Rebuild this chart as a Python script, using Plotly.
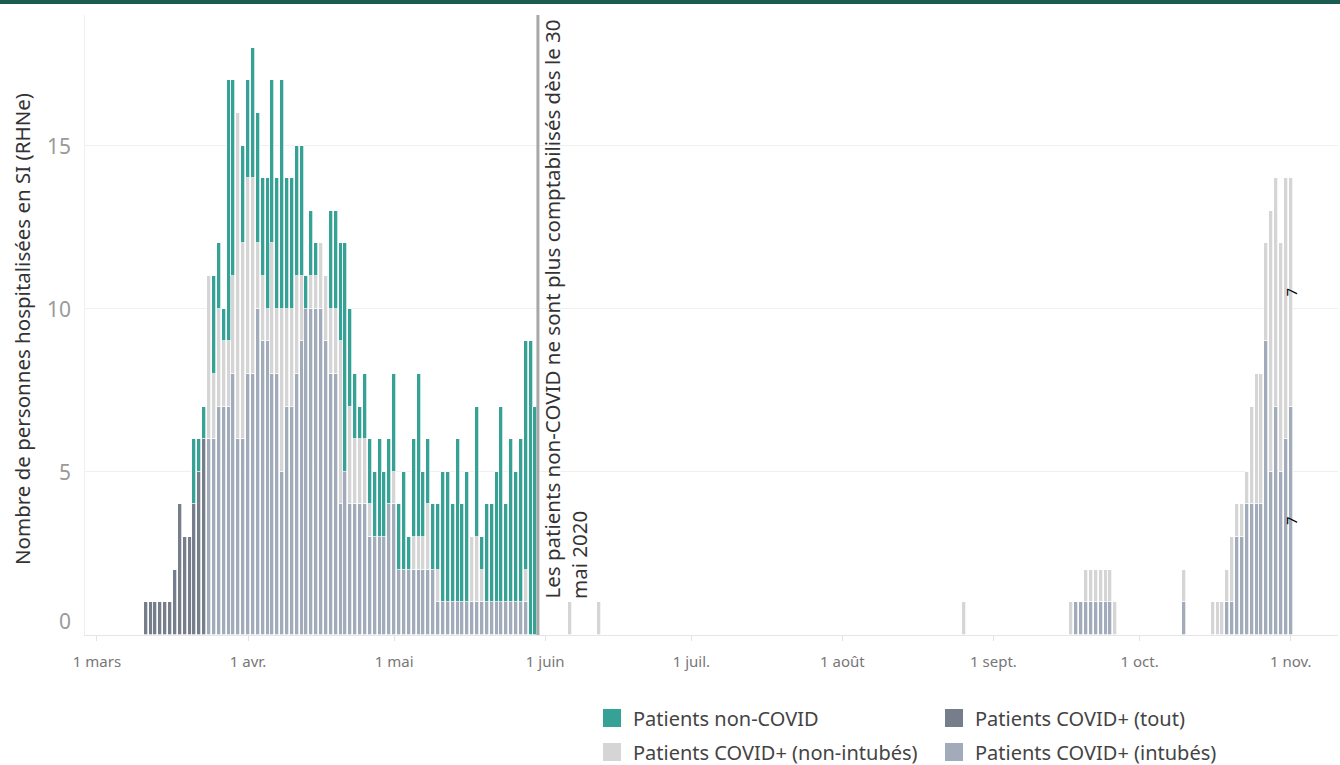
import plotly.graph_objects as go
import pandas as pd

# ---------------- data ----------------
# consecutive days, 11 March -> 30 May 2020
dates_a = [d.strftime("%Y-%m-%d") for d in pd.date_range("2020-03-11", "2020-05-30", freq="D")]
# later isolated days
dates_b = ["2020-06-06", "2020-06-12", "2020-08-26",
           "2020-09-17", "2020-09-18", "2020-09-19", "2020-09-20", "2020-09-21",
           "2020-09-22", "2020-09-23", "2020-09-24", "2020-09-25", "2020-09-26",
           "2020-10-10",
           "2020-10-16", "2020-10-17", "2020-10-18", "2020-10-19", "2020-10-20",
           "2020-10-21", "2020-10-22", "2020-10-23", "2020-10-24", "2020-10-25",
           "2020-10-26", "2020-10-27", "2020-10-28", "2020-10-29", "2020-10-30",
           "2020-10-31", "2020-11-01"]

tout_a = [1, 1, 1, 1, 1, 1, 2, 4, 3, 3,
          4, 5, 6, 0, 0, 0, 0, 0, 0, 0,
          0, 0, 0, 0, 0, 0, 0, 0, 0, 0,
          0, 0, 0, 0, 0, 0, 0, 0, 0, 0,
          0, 0, 0, 0, 0, 0, 0, 0, 0, 0,
          0, 0, 0, 0, 0, 0, 0, 0, 0, 0,
          0, 0, 0, 0, 0, 0, 0, 0, 0, 0,
          0, 0, 0, 0, 0, 0, 0, 0, 0, 0,
          0]
intub_a = [0, 0, 0, 0, 0, 0, 0, 0, 0, 0,
           0, 0, 0, 6, 6, 7, 7, 7, 8, 6,
           6, 8, 8, 10, 9, 9, 8, 8, 5, 7,
           7, 8, 9, 10, 10, 10, 10, 9, 8, 8,
           4, 5, 4, 4, 4, 4, 3, 3, 3, 3,
           4, 4, 2, 2, 2, 2, 2, 2, 2, 2,
           1, 1, 1, 1, 1, 1, 1, 1, 1, 1,
           1, 1, 1, 1, 1, 1, 1, 1, 1, 0,
           0]
nonint_a = [0, 0, 0, 0, 0, 0, 0, 0, 0, 0,
            0, 0, 0, 5, 2, 3, 2, 2, 3, 10,
            6, 6, 6, 2, 2, 1, 4, 2, 5, 3,
            3, 3, 2, 0, 1, 1, 2, 2, 2, 2,
            5, 0, 3, 2, 2, 2, 1, 0, 0, 0,
            0, 1, 0, 0, 0, 1, 1, 1, 2, 0,
            1, 0, 0, 0, 0, 0, 0, 2, 2, 1,
            0, 0, 0, 0, 0, 0, 0, 0, 1, 0,
            0]
noncovid_a = [0, 0, 0, 0, 0, 0, 0, 0, 0, 0,
              2, 1, 1, 0, 3, 2, 1, 8, 6, 0,
              3, 3, 4, 4, 3, 4, 5, 4, 7, 4,
              4, 4, 4, 1, 2, 1, 0, 0, 3, 3,
              3, 7, 3, 2, 1, 2, 2, 2, 3, 2,
              2, 3, 2, 3, 1, 3, 5, 2, 2, 2,
              2, 4, 4, 3, 5, 3, 4, 0, 4, 1,
              3, 3, 4, 6, 3, 5, 4, 5, 7, 9,
              7]

tout_b = [0] * len(dates_b)
intub_b = [0, 0, 0,
           0, 1, 1, 1, 1, 1, 1, 1, 1, 0,
           1,
           0, 0, 0, 1, 1, 3, 3, 4, 4, 4, 4, 9, 5, 7, 5, 6, 7]
nonint_b = [1, 1, 1,
            1, 0, 0, 1, 1, 1, 1, 1, 1, 1,
            1,
            1, 1, 1, 1, 2, 1, 1, 1, 3, 4, 4, 3, 8, 7, 7, 8, 7]
noncovid_b = [0] * len(dates_b)

month_ticks = ["2020-03-01", "2020-04-01", "2020-05-01", "2020-06-01", "2020-07-01",
               "2020-08-01", "2020-09-01", "2020-10-01", "2020-11-01"]
month_labels = ["1 mars", "1 avr.", "1 mai", "1 juin", "1 juil.", "1 août",
                "1 sept.", "1 oct.", "1 nov."]
y_ticks = [0, 5, 10, 15]

cutoff_date = "2020-05-30 12:00"
note_lines = ["Les patients non-COVID ne sont plus comptabilisés dès le 30", "mai 2020"]

# ---------------- style ----------------
C_TEAL = "#35a295"
C_TOUT = "#767e8b"
C_INT = "#a2abb9"
C_NON = "#d5d5d5"
FONT = "Noto Sans"

W, H = 1340, 765
L, R, T, B = 85, 2, 15, 130
PW, PH = W - L - R, H - T - B


def px_x(px):
    return (px - L) / PW


def px_y(py):
    return (H - B - py) / PH


dates = dates_a + dates_b
series = [
    ("Patients COVID+ (tout)", tout_a + tout_b, C_TOUT),
    ("Patients COVID+ (intubés)", intub_a + intub_b, C_INT),
    ("Patients COVID+ (non-intubés)", nonint_a + nonint_b, C_NON),
    ("Patients non-COVID", noncovid_a + noncovid_b, C_TEAL),
]

fig = go.Figure()
DAY_MS = 86400000
for name, vals, col in series:
    y = [v if v else None for v in vals]
    # value label only on the last day, as in the original
    txt = [""] * (len(vals) - 1) + [str(vals[-1]) if vals[-1] else ""]
    fig.add_trace(go.Bar(
        x=dates, y=y, name=name,
        marker=dict(color=col, line=dict(color="white", width=0.7)),
        width=0.82 * DAY_MS,
        text=txt, textposition="inside", textangle=-90,
        insidetextanchor="middle", constraintext="none",
        textfont=dict(family=FONT, size=15, color="black"),
        hoverinfo="x+y+name", showlegend=False,
    ))

shapes = [
    # reference line
    dict(type="line", xref="x", yref="paper", x0=cutoff_date, x1=cutoff_date,
         y0=0, y1=1, line=dict(color="#a8a8a8", width=3), layer="above"),
    # top band
    dict(type="rect", xref="paper", yref="paper", x0=px_x(0), x1=px_x(W),
         y0=px_y(4), y1=px_y(0), fillcolor="#1b5c50", line=dict(width=0)),
]

annotations = []
# y tick labels
for v in y_ticks:
    annotations.append(dict(xref="paper", yref="y", x=px_x(73), y=v, text=str(v),
                            xanchor="right", yanchor="middle", showarrow=False,
                            yshift=14 if v == 0 else 0,
                            font=dict(family=FONT, size=21, color="#9a9a9a")))
# y title
annotations.append(dict(xref="paper", yref="paper", x=px_x(22), y=px_y(329),
                        text="Nombre de personnes hospitalisées en SI (RHNe)",
                        textangle=-90, showarrow=False, xanchor="center", yanchor="middle",
                        font=dict(family=FONT, size=20.5, color="#333333")))
# note on reference line
for i, line in enumerate(note_lines):
    annotations.append(dict(xref="paper", yref="paper", x=px_x(551 + 28 * i), y=px_y(601),
                            text=line, textangle=-90, showarrow=False,
                            xanchor="center", yanchor="bottom",
                            font=dict(family=FONT, size=20.5, color="#333333")))

# legend (manual, 2 columns)
legend_items = [("Patients non-COVID", C_TEAL, 603, 718),
                ("Patients COVID+ (tout)", C_TOUT, 945, 718),
                ("Patients COVID+ (non-intubés)", C_NON, 603, 752),
                ("Patients COVID+ (intubés)", C_INT, 945, 752)]
for text, col, lx, ly in legend_items:
    shapes.append(dict(type="rect", xref="paper", yref="paper",
                       x0=px_x(lx), x1=px_x(lx + 18), y0=px_y(ly + 9), y1=px_y(ly - 9),
                       fillcolor=col, line=dict(width=0)))
    annotations.append(dict(xref="paper", yref="paper", x=px_x(lx + 28), y=px_y(ly),
                            text=text, showarrow=False, xanchor="left", yanchor="middle",
                            font=dict(family=FONT, size=20, color="#444444")))

fig.update_layout(
    width=W, height=H,
    margin=dict(l=L, r=R, t=T, b=B),
    paper_bgcolor="white", plot_bgcolor="white",
    barmode="stack", bargap=0,
    font=dict(family=FONT),
    shapes=shapes, annotations=annotations,
    xaxis=dict(type="date", range=["2020-02-27 13:00", "2020-11-10 17:00"],
               tickvals=month_ticks, ticktext=month_labels,
               tickfont=dict(family=FONT, size=15, color="#777777"),
               ticks="outside", ticklen=5, tickcolor="#e3e3e3",
               ticklabelstandoff=8,
               showgrid=False, showline=True, linecolor="#e6e6e6", linewidth=1,
               zeroline=False),
    yaxis=dict(range=[0, 19], tickvals=y_ticks, showticklabels=False,
               showgrid=True, gridcolor="#f0f0f0", gridwidth=1,
               showline=True, linecolor="#efefef", linewidth=1,
               zeroline=False, ticks=""),
)

fig.write_html("out.html", config={"displayModeBar": False},
               post_script="document.body.style.margin='0';")
